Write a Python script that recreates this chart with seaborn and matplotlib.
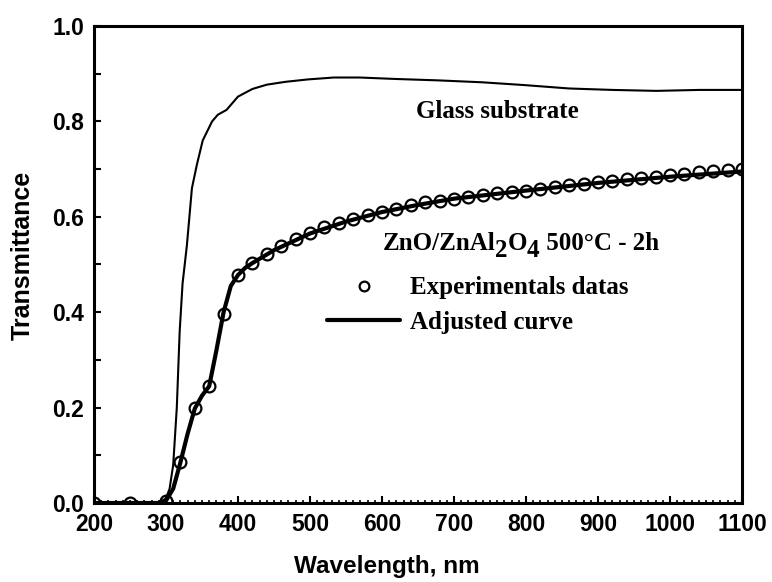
import matplotlib
matplotlib.use("Agg")
import matplotlib.pyplot as plt
import seaborn as sns
import pandas as pd
from matplotlib.lines import Line2D
from matplotlib.ticker import MultipleLocator

# ---- data ----
exp_wl = [200, 250, 300, 320, 340, 360, 380, 400, 420, 440, 460, 480, 500, 520,
          540, 560, 580, 600, 620, 640, 660, 680, 700, 720, 740, 760, 780, 800,
          820, 840, 860, 880, 900, 920, 940, 960, 980, 1000, 1020, 1040, 1060,
          1080, 1100]
exp_T = [0.0, 0.0, 0.005, 0.085, 0.200, 0.245, 0.397, 0.477, 0.504, 0.522, 0.538,
         0.553, 0.566, 0.579, 0.588, 0.595, 0.604, 0.611, 0.617, 0.624, 0.630,
         0.634, 0.637, 0.642, 0.646, 0.650, 0.653, 0.655, 0.658, 0.662, 0.666,
         0.669, 0.673, 0.676, 0.679, 0.682, 0.684, 0.687, 0.690, 0.693, 0.696,
         0.699, 0.701]

fit_wl = [200, 290, 300, 310, 320, 330, 340, 350, 360, 370, 380, 390, 400, 410,
          420, 450, 500, 550, 600, 650, 700, 800, 900, 1000, 1100]
fit_T = [0.0, 0.0, 0.005, 0.03, 0.085, 0.145, 0.198, 0.225, 0.245, 0.32, 0.40,
         0.455, 0.478, 0.493, 0.503, 0.530, 0.565, 0.590, 0.610, 0.625, 0.638,
         0.655, 0.671, 0.684, 0.695]

glass_wl = [200, 290, 300, 305, 310, 315, 319, 323, 329, 336, 343, 351, 364, 372,
            384, 400, 420, 440, 466, 497, 533, 569, 618, 678, 739, 799, 860, 920,
            981, 1041, 1100]
glass_T = [0.0, 0.0, 0.01, 0.03, 0.08, 0.20, 0.36, 0.46, 0.54, 0.66, 0.71, 0.76,
           0.80, 0.814, 0.824, 0.852, 0.868, 0.877, 0.883, 0.888, 0.892, 0.892,
           0.889, 0.886, 0.882, 0.876, 0.869, 0.866, 0.864, 0.866, 0.866]

x_ticks = [200, 300, 400, 500, 600, 700, 800, 900, 1000, 1100]
y_ticks = [0.0, 0.2, 0.4, 0.6, 0.8, 1.0]

title_parts = [("ZnO/ZnAl", 0), ("2", -5), ("O", 0), ("4", -5), (" 500°C - 2h", 0)]
glass_lbl = "Glass substrate"
exp_lbl = "Experimentals datas"
fit_lbl = "Adjusted curve"

# ---- style ----
sns.set_style("ticks")
plt.rcParams["font.family"] = ["Liberation Sans", "DejaVu Sans"]
for k in ["text.color", "axes.labelcolor", "xtick.color", "ytick.color",
          "axes.edgecolor"]:
    plt.rcParams[k] = "black"

fig = plt.figure(figsize=(7.72, 5.82), dpi=100)
ax = fig.add_axes([94 / 772, 1 - 503 / 582, (742 - 94) / 772, (503 - 26) / 582])

df_glass = pd.DataFrame({"wl": glass_wl, "T": glass_T})
df_fit = pd.DataFrame({"wl": fit_wl, "T": fit_T})
df_exp = pd.DataFrame({"wl": exp_wl, "T": exp_T})

sns.lineplot(data=df_glass, x="wl", y="T", ax=ax, color="black", lw=1.5,
             sort=False)
sns.lineplot(data=df_fit, x="wl", y="T", ax=ax, color="black", lw=3.0,
             sort=False)
ax.plot(df_exp["wl"], df_exp["T"], ls="none", marker="o", ms=8.5,
        mfc="none", mec="black", mew=1.6)

ax.set_xlim(200, 1100)
ax.set_ylim(0, 1.0)
ax.set_xticks(x_ticks)
ax.set_yticks(y_ticks)
ax.set_xticklabels([str(v) for v in x_ticks])
ax.set_yticklabels([f"{v:.1f}" for v in y_ticks])
ax.xaxis.set_minor_locator(MultipleLocator(10))
ax.yaxis.set_minor_locator(MultipleLocator(0.1))

ax.tick_params(axis="both", which="major", direction="in", length=5, width=1.5,
               labelsize=16.5)
ax.tick_params(axis="x", which="major", pad=7)
ax.tick_params(axis="y", which="major", pad=7)
ax.tick_params(axis="x", which="minor", direction="in", length=2.5, width=1.2)
ax.tick_params(axis="y", which="minor", direction="in", length=5, width=1.5)
for lab in ax.get_xticklabels() + ax.get_yticklabels():
    lab.set_fontweight("bold")
for s in ax.spines.values():
    s.set_linewidth(2.2)
    s.set_visible(True)

ax.set_xlabel("Wavelength, nm", fontsize=17.5, fontweight="bold")
ax.set_ylabel("Transmittance", fontsize=18, fontweight="bold")
ax.xaxis.set_label_coords(0.452, -0.109)
ax.yaxis.set_label_coords(-0.092, 0.52)

serif = ["Liberation Serif", "DejaVu Serif"]
fs = 18
ax.text(0.497, 0.82, glass_lbl, transform=ax.transAxes, fontsize=fs,
        fontweight="bold", family=serif, ha="left", va="center")

prev = ax.text(0.445, 0.53, title_parts[0][0], transform=ax.transAxes,
               fontsize=fs, fontweight="bold", family=serif, ha="left",
               va="baseline")
last_dy = 0
for txt, dy in title_parts[1:]:
    prev = ax.annotate(txt, xy=(1, 0), xycoords=prev, xytext=(0, dy - last_dy),
                       textcoords="offset points", fontsize=fs,
                       fontweight="bold", family=serif, ha="left",
                       va="bottom")
    last_dy = dy

handles = [Line2D([], [], ls="none", marker="o", ms=7, mfc="none", mec="black",
                  mew=1.6),
           Line2D([], [], color="black", lw=3.0)]
leg = ax.legend(handles, [exp_lbl, fit_lbl], loc="upper left",
                bbox_to_anchor=(0.36, 0.475), frameon=False,
                prop={"family": serif, "weight": "bold", "size": fs},
                handlelength=2.9, handletextpad=0.4, labelspacing=0.45,
                borderpad=0, borderaxespad=0)

fig.savefig("out.png", dpi=100)
